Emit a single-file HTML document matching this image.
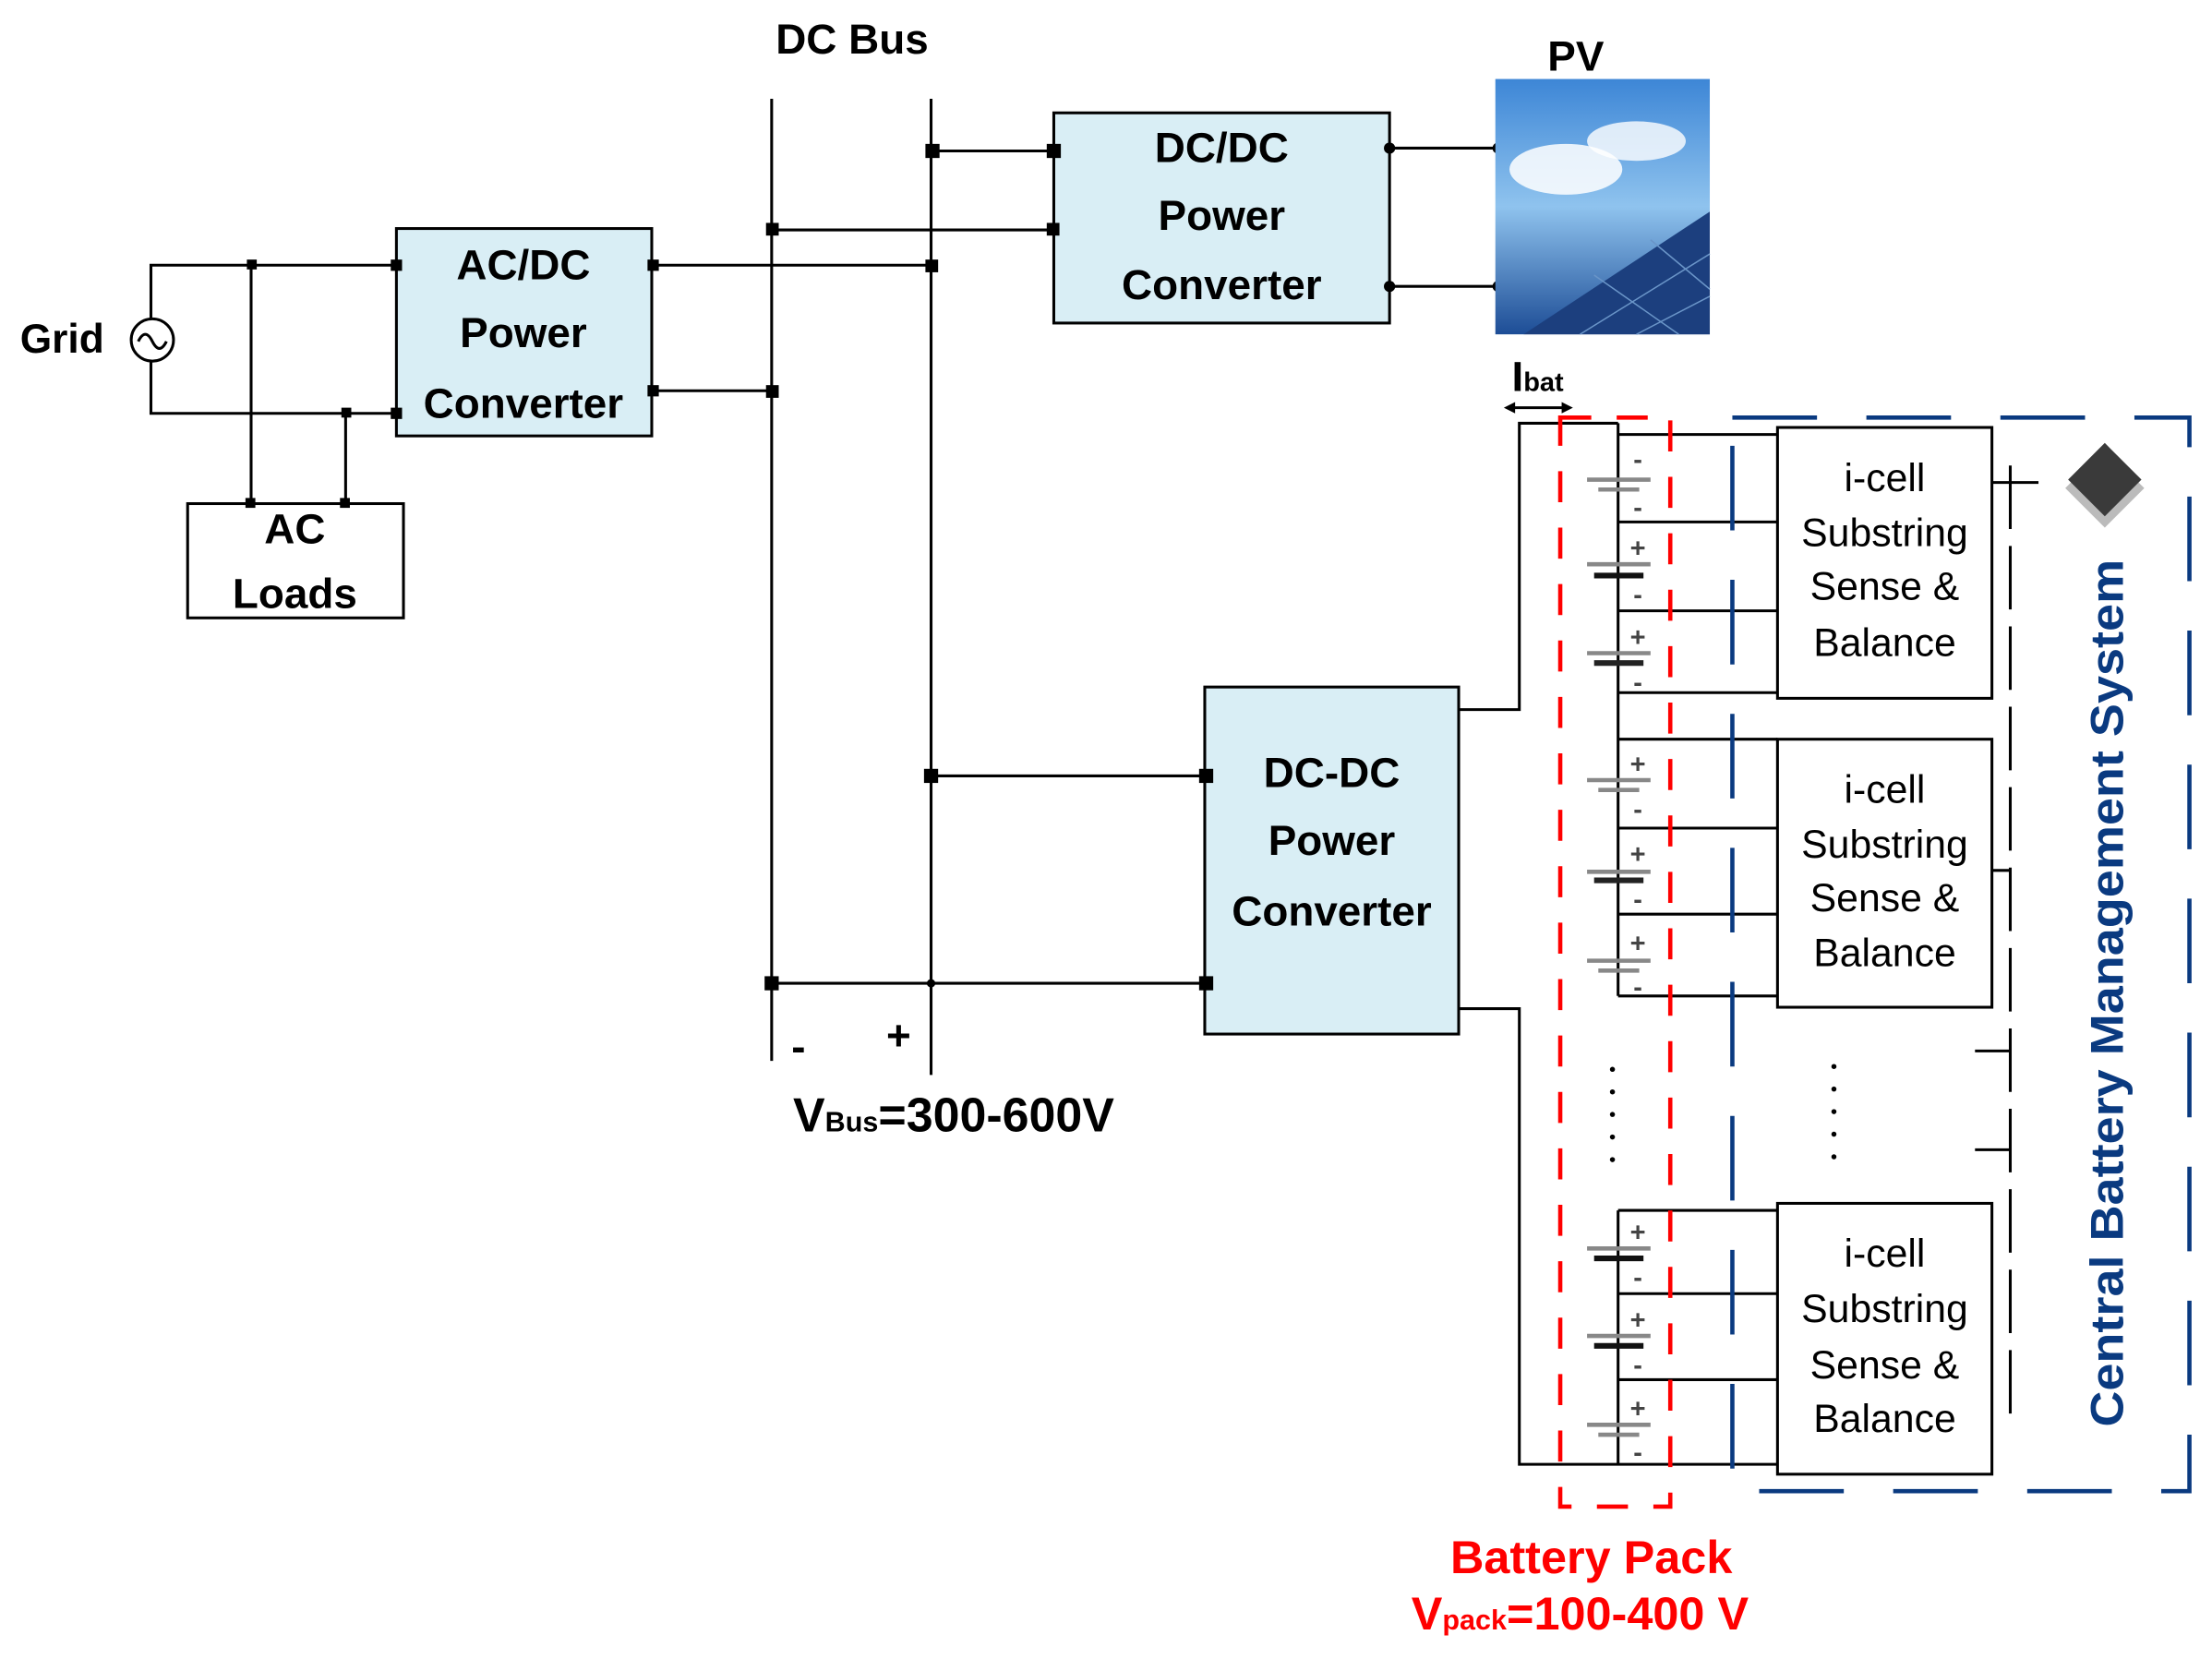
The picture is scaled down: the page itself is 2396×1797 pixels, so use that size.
<!DOCTYPE html>
<html><head><style>html,body{margin:0;padding:0;background:#fff}svg{display:block}</style></head>
<body>
<svg width="2396" height="1797" viewBox="0 0 1568 1176" xmlns="http://www.w3.org/2000/svg" font-family="Liberation Sans, sans-serif">
<defs>
<linearGradient id="sky" x1="0" y1="0" x2="0" y2="1">
<stop offset="0" stop-color="#3d86d6"/><stop offset="0.5" stop-color="#8fc3ee"/><stop offset="1" stop-color="#1d4d96"/>
</linearGradient>
</defs>
<g stroke="#000" stroke-width="2" fill="none">
<line x1="547" y1="70" x2="547" y2="752"/>
<line x1="660" y1="70" x2="660" y2="762"/>
<polyline points="107,226 107,188 281,188"/>
<polyline points="107,256 107,293 281,293"/>
<line x1="178" y1="188" x2="178" y2="357"/>
<line x1="245" y1="293" x2="245" y2="357"/>
<rect x="133" y="357" width="153" height="81"/>
<rect x="281" y="162" width="181" height="147" fill="#d9eef5"/>
<line x1="462" y1="188" x2="660" y2="188"/>
<line x1="462" y1="277" x2="547" y2="277"/>
<rect x="747" y="80" width="238" height="149" fill="#d9eef5"/>
<line x1="660" y1="107" x2="747" y2="107"/>
<line x1="547" y1="163" x2="747" y2="163"/>
<line x1="985" y1="105" x2="1062" y2="105"/>
<line x1="985" y1="203" x2="1062" y2="203"/>
<rect x="854" y="487" width="180" height="246" fill="#d9eef5"/>
<line x1="660" y1="550" x2="854" y2="550"/>
<line x1="547" y1="697" x2="854" y2="697"/>
<polyline points="1034,503 1077,503 1077,300 1147,300"/>
<polyline points="1034,715 1077,715 1077,1038 1260,1038"/>
<line x1="1147" y1="300" x2="1147" y2="706"/>
<line x1="1147" y1="858" x2="1147" y2="1038"/>
<g>
<line x1="1147" y1="308" x2="1260" y2="308"/><line x1="1147" y1="370" x2="1260" y2="370"/><line x1="1147" y1="433" x2="1260" y2="433"/><line x1="1147" y1="491" x2="1260" y2="491"/>
<line x1="1147" y1="524" x2="1260" y2="524"/><line x1="1147" y1="587" x2="1260" y2="587"/><line x1="1147" y1="648" x2="1260" y2="648"/><line x1="1147" y1="706" x2="1260" y2="706"/>
<line x1="1147" y1="858" x2="1260" y2="858"/><line x1="1147" y1="917" x2="1260" y2="917"/><line x1="1147" y1="978" x2="1260" y2="978"/>
</g>
<rect x="1260" y="303" width="152" height="192" fill="#fff"/>
<rect x="1260" y="524" width="152" height="190" fill="#fff"/>
<rect x="1260" y="853" width="152" height="192" fill="#fff"/>
<line x1="1425" y1="330" x2="1425" y2="1010" stroke-dasharray="45,12"/>
<line x1="1412" y1="342" x2="1445" y2="342"/>
<line x1="1412" y1="617" x2="1425" y2="617"/>
<line x1="1400" y1="745" x2="1425" y2="745"/>
<line x1="1400" y1="815" x2="1425" y2="815"/>
<line x1="1070" y1="289" x2="1111" y2="289"/>
</g>
<polygon points="1066,289 1074,285 1074,293" fill="#000"/>
<polygon points="1115,289 1107,285 1107,293" fill="#000"/>
<g fill="#000">
<rect x="175" y="184" width="7" height="7"/><rect x="277" y="184" width="8" height="8"/><rect x="277" y="289" width="8" height="8"/><rect x="242" y="289" width="7" height="7"/>
<rect x="174" y="353" width="7" height="7"/><rect x="241" y="353" width="7" height="7"/>
<rect x="459" y="184" width="8" height="8"/><rect x="459" y="273" width="8" height="8"/>
<rect x="656" y="184" width="9" height="9"/><rect x="543" y="273" width="9" height="9"/>
<rect x="656" y="102" width="10" height="10"/><rect x="742" y="102" width="10" height="10"/>
<rect x="543" y="158" width="9" height="9"/><rect x="742" y="158" width="9" height="9"/>
<circle cx="985" cy="105" r="4"/><circle cx="985" cy="203" r="4"/><circle cx="1062" cy="105" r="4"/><circle cx="1062" cy="203" r="4"/>
<rect x="655" y="545" width="10" height="10"/><rect x="850" y="545" width="10" height="10"/>
<rect x="542" y="692" width="10" height="10"/><rect x="850" y="692" width="10" height="10"/>
<circle cx="660" cy="697" r="3"/>
</g>
<circle cx="108" cy="241" r="15" fill="#fff" stroke="#000" stroke-width="2"/>
<path d="M98,242 q5,-10 10,0 q5,10 10,0" fill="none" stroke="#000" stroke-width="2"/>
<rect x="1060" y="56" width="152" height="181" fill="url(#sky)"/>
<ellipse cx="1110" cy="120" rx="40" ry="18" fill="#fff" opacity="0.85"/>
<ellipse cx="1160" cy="100" rx="35" ry="14" fill="#fff" opacity="0.8"/>
<polygon points="1080,237 1212,150 1212,237" fill="#1c3f7e"/>
<g stroke="#6a95c8" stroke-width="1"><line x1="1120" y1="237" x2="1212" y2="180"/><line x1="1160" y1="237" x2="1212" y2="210"/><line x1="1130" y1="195" x2="1190" y2="237"/><line x1="1170" y1="170" x2="1212" y2="205"/></g>
<g>
<g stroke-width="3">
<line x1="1125" y1="340" x2="1170" y2="340" stroke="#888"/><line x1="1133" y1="347" x2="1162" y2="347" stroke="#888"/>
<line x1="1125" y1="400" x2="1170" y2="400" stroke="#888"/><line x1="1130" y1="408" x2="1165" y2="408" stroke="#111" stroke-width="4"/>
<line x1="1125" y1="463" x2="1170" y2="463" stroke="#888"/><line x1="1130" y1="470" x2="1165" y2="470" stroke="#222" stroke-width="4"/>
<line x1="1125" y1="553" x2="1170" y2="553" stroke="#888"/><line x1="1133" y1="560" x2="1162" y2="560" stroke="#888"/>
<line x1="1125" y1="618" x2="1170" y2="618" stroke="#888"/><line x1="1130" y1="624" x2="1165" y2="624" stroke="#222" stroke-width="4"/>
<line x1="1125" y1="681" x2="1170" y2="681" stroke="#888"/><line x1="1133" y1="688" x2="1162" y2="688" stroke="#888"/>
<line x1="1125" y1="885" x2="1170" y2="885" stroke="#888"/><line x1="1130" y1="892" x2="1165" y2="892" stroke="#111" stroke-width="4"/>
<line x1="1125" y1="947" x2="1170" y2="947" stroke="#888"/><line x1="1130" y1="954" x2="1165" y2="954" stroke="#111" stroke-width="4"/>
<line x1="1125" y1="1010" x2="1170" y2="1010" stroke="#888"/><line x1="1133" y1="1017" x2="1162" y2="1017" stroke="#888"/>
</g>
<g font-size="19" font-weight="bold" fill="#444" text-anchor="middle">
<text x="1161" y="332">-</text><text x="1161" y="366">-</text>
<text x="1161" y="395">+</text><text x="1161" y="428">-</text>
<text x="1161" y="458">+</text><text x="1161" y="490">-</text>
<text x="1161" y="548">+</text><text x="1161" y="580">-</text>
<text x="1161" y="612">+</text><text x="1161" y="644">-</text>
<text x="1161" y="675">+</text><text x="1161" y="706">-</text>
<text x="1161" y="880">+</text><text x="1161" y="912">-</text>
<text x="1161" y="942">+</text><text x="1161" y="974">-</text>
<text x="1161" y="1005">+</text><text x="1161" y="1036">-</text>
</g>
</g>
<g fill="#000"><circle cx="1143" cy="758" r="1.8"/><circle cx="1143" cy="774" r="1.8"/><circle cx="1143" cy="790" r="1.8"/><circle cx="1143" cy="806" r="1.8"/><circle cx="1143" cy="822" r="1.8"/>
<circle cx="1300" cy="756" r="1.8"/><circle cx="1300" cy="772" r="1.8"/><circle cx="1300" cy="788" r="1.8"/><circle cx="1300" cy="804" r="1.8"/><circle cx="1300" cy="820" r="1.8"/></g>
<rect x="1106" y="296" width="78" height="772" fill="none" stroke="#f00" stroke-width="3" stroke-dasharray="22,18"/>
<rect x="1228" y="296" width="324" height="761" fill="none" stroke="#0a3a80" stroke-width="3" stroke-dasharray="60,35"/>
<polygon points="1492,318 1520,346 1492,374 1464,346" fill="#bbb"/>
<polygon points="1492,314 1518,340 1492,366 1466,340" fill="#3a3a3a"/>
<g font-weight="bold" fill="#000" text-anchor="middle" font-size="30">
<text x="604" y="38">DC Bus</text>
<text x="1117" y="50">PV</text>
<text x="44" y="250" font-size="29">Grid</text>
<text x="371" y="198">AC/DC</text><text x="371" y="246">Power</text><text x="371" y="296">Converter</text>
<text x="209" y="385">AC</text><text x="209" y="431">Loads</text>
<text x="866" y="115">DC/DC</text><text x="866" y="163">Power</text><text x="866" y="212">Converter</text>
<text x="944" y="558">DC-DC</text><text x="944" y="606">Power</text><text x="944" y="656">Converter</text>
<text x="566" y="752">-</text><text x="637" y="744">+</text>
<text x="1090" y="277" font-size="30">I<tspan font-size="19">bat</tspan></text>
<text x="676" y="802" font-size="34">V<tspan font-size="20">Bus</tspan>=300-600V</text>
</g>
<g font-weight="bold" fill="#f00" text-anchor="middle" font-size="33">
<text x="1128" y="1115">Battery Pack</text>
<text x="1120" y="1155">V<tspan font-size="20">pack</tspan>=100-400 V</text>
</g>
<g fill="#000" text-anchor="middle" font-size="28">
<text x="1336" y="348">i-cell</text><text x="1336" y="387">Substring</text><text x="1336" y="425">Sense &amp;</text><text x="1336" y="465">Balance</text>
<text x="1336" y="569">i-cell</text><text x="1336" y="608">Substring</text><text x="1336" y="646">Sense &amp;</text><text x="1336" y="685">Balance</text>
<text x="1336" y="898">i-cell</text><text x="1336" y="937">Substring</text><text x="1336" y="977">Sense &amp;</text><text x="1336" y="1015">Balance</text>
</g>
<text transform="translate(1505,704) rotate(-90)" text-anchor="middle" font-weight="bold" font-size="33" fill="#0a3a80" textLength="615" lengthAdjust="spacingAndGlyphs">Central Battery Management System</text>
</svg>
</body></html>
